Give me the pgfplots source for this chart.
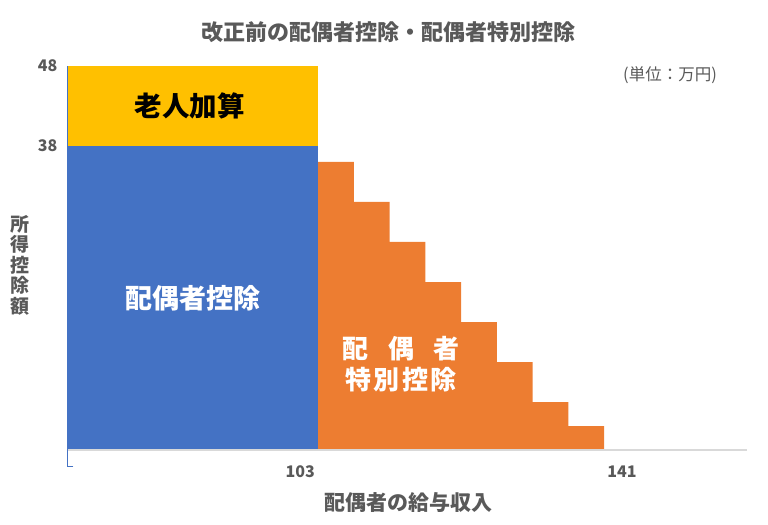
\documentclass[border=0pt]{standalone}
\usepackage{fontspec}
\setmainfont{Noto Sans CJK JP}
\usepackage{pgfplots}
\pgfplotsset{compat=1.18}
\definecolor{xlBlue}{HTML}{4472C4}
\definecolor{xlOrange}{HTML}{ED7D31}
\definecolor{xlYellow}{HTML}{FFC000}
\definecolor{txtGray}{HTML}{595959}
\definecolor{gridGray}{HTML}{D9D9D9}
\newcommand{\fs}[2]{\fontsize{#1bp}{#2bp}\selectfont}

\begin{document}
\begin{tikzpicture}
% page = 768 x 525, axis box south west at pixel (68,450)
\path[use as bounding box] (-68bp,-75bp) rectangle (700bp,450bp);
\begin{axis}[
    at={(0,0)}, anchor=south west,
    scale only axis,
    width=679bp, height=384bp,
    xmin=0, xmax=19,
    ymin=0, ymax=48,
    clip=false,
    axis line style={draw=none},
    major tick length=0pt,
    xtick={6.5,15.5}, xticklabels={103,141},
    ytick={38,48},
    /pgf/number format/assume math mode=true,
    ticklabel style={font=\fs{16}{19}\bfseries, text=txtGray},
    yticklabel style={xshift=-7bp},
    xticklabel style={yshift=-12bp},
]
% 老人加算
\addplot[fill=xlYellow, draw=none] coordinates {(0,38) (0,48) (7,48) (7,38)} -- cycle;
% 配偶者控除
\addplot[fill=xlBlue, draw=none] coordinates {(0,0) (0,38) (7,38) (7,0)} -- cycle;
% 配偶者特別控除 (steps)
\addplot[fill=xlOrange, draw=none, const plot mark left] coordinates {
    (7,36) (8,31) (9,26) (10,21) (11,16) (12,11) (13,6) (14,3) (15,3)
} \closedcycle;

\draw[gridGray, line width=1.5bp] (axis cs:0,0) -- (axis cs:19,0);
\draw[xlBlue, line width=1bp] (axis cs:0.15,-2.1) -- (axis cs:0,-2.1) -- (axis cs:0,48);

\node[font=\fs{27.5}{30}\bfseries, text=black] at (axis cs:3.4,43) {老人加算};
\node[font=\fs{27}{30}\bfseries, text=white] at (axis cs:3.5,19) {配偶者控除};
\node[font=\fs{26}{30}\bfseries, text=white, align=center, inner sep=0pt]
    at (axis cs:9.32,10.7) {配\hspace{0.75em}偶\hspace{0.75em}者\\[1bp]特\hspace{0.1em}別\hspace{0.1em}控\hspace{0.1em}除};
\end{axis}

\node[font=\fs{22}{26}\bfseries, text=txtGray] at (320bp,418bp) {改正前の配偶者控除・配偶者特別控除};
\node[font=\fs{16.5}{20}, text=txtGray] at (602bp,375bp) {(単位：万円)};
\node[font=\fs{21}{25}\bfseries, text=txtGray] at (340bp,-53bp) {配偶者の給与収入};
\node[font=\fs{19}{20.5}\bfseries, text=txtGray, align=center, inner sep=0pt]
    at (-48bp,185bp) {所\\得\\控\\除\\額};
\end{tikzpicture}
\end{document}
